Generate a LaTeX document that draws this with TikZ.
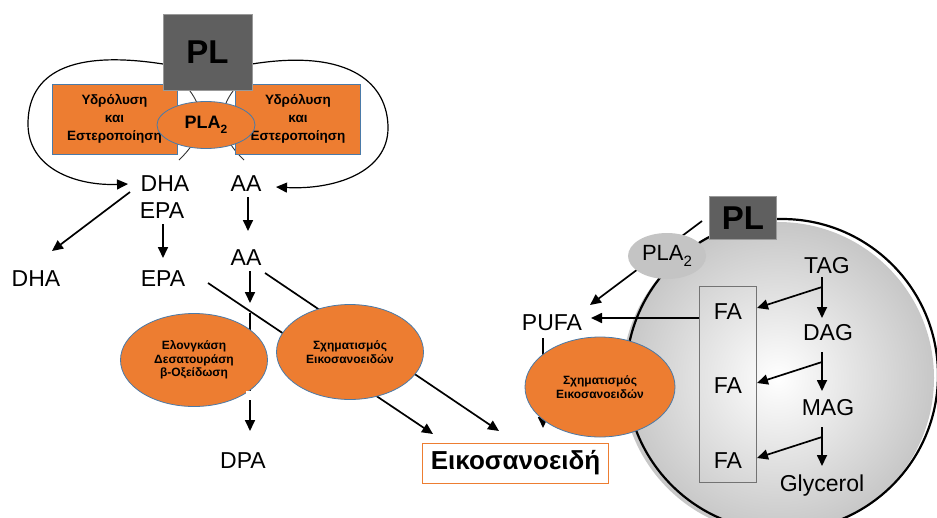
\documentclass[tikz,border=0pt]{standalone}
\usepackage{fontspec}
\setmainfont{Liberation Sans}
\usetikzlibrary{arrows.meta,shapes.geometric}
\definecolor{orng}{HTML}{ED7D31}
\definecolor{bord}{HTML}{4A7AA8}
\definecolor{plgray}{HTML}{5F5F5F}
\definecolor{plagray}{HTML}{C4C4C4}
\newcommand{\subtwo}[1]{\raisebox{-0.3em}{\fontsize{#1}{#1}\selectfont 2}}
\begin{document}
\begin{tikzpicture}[x=1pt,y=-1pt,
  lbl/.style={font=\fontsize{23}{23}\selectfont, inner sep=0pt, text height=16pt, text depth=0pt},
  arr/.style={line width=1.7pt, -{Triangle[length=11pt,width=10pt]}},
  loopline/.style={line width=1.2pt, -{Triangle[length=11pt,width=10pt]}},
  orbox/.style={rectangle, fill=orng, draw=bord, line width=0.8pt, inner sep=0pt,
     minimum width=125pt, minimum height=70pt, align=center,
     font=\bfseries\fontsize{13.5}{18}\selectfont},
  orell/.style={ellipse, fill=orng, draw=bord, line width=0.8pt, inner sep=0pt, align=center,
     font=\bfseries\fontsize{12}{13.5}\selectfont},
  plbox/.style={rectangle, fill=plgray, draw=gray!80, line width=0.8pt, inner sep=0pt,
     font=\bfseries\fontsize{33}{33}\selectfont}
]
\useasboundingbox (0,0) rectangle (937,517);

% ---------------- left part ----------------
\coordinate (loopLs) at (163,64);
\coordinate (loopRs) at (252,64);
\node[lbl] (dhaA) at (165,183) {DHA};
\node[lbl] (epaA) at (162,210) {EPA};
\node[lbl] (aaA) at (246,183) {AA};
\node[lbl] (aaB) at (246,257) {AA};
\node[lbl] (dhaB) at (36,278) {DHA};
\node[lbl] (epaB) at (163,278) {EPA};
\node[lbl] (dpa) at (243,460) {DPA};

\draw[loopline] (loopLs) .. controls (60,48) and (28,80) .. (28,124)
   .. controls (28,168) and (75,186) .. (128,184);
\draw[loopline] (loopRs) .. controls (352,48) and (388,85) .. (388,128)
   .. controls (388,172) and (335,190) .. (276,187);

% arcs behind PLA2
\draw[line width=0.9pt, black!80] (186,86) .. controls (210,114) and (202,138) .. (179,160);
\draw[line width=0.9pt, black!80] (237,86) .. controls (213,114) and (221,138) .. (244,160);

\node[orbox] (hydL) at (114.5,119) {Υδρόλυση\\και\\Εστεροποίηση};
\node[orbox] (hydR) at (298,119) {Υδρόλυση\\και\\Εστεροποίηση};
\node[plbox, minimum width=89pt, minimum height=76pt] (plL) at (207.5,52) {PL};
\node[ellipse, fill=orng, draw=bord, line width=0.8pt, inner sep=0pt,
      minimum width=98pt, minimum height=47pt,
      font=\bfseries\fontsize{18}{18}\selectfont] (pla2L) at (206,125) {PLA\subtwo{12}};

% arrows upper left
\coordinate (d1s) at (130,192); \coordinate (d1e) at (52,251);
\draw[arr] (d1s) -- (d1e);
\coordinate (e1s) at (163,224); \coordinate (e1e) at (163,258);
\draw[arr] (e1s) -- (e1e);
\coordinate (a1s) at (248,197); \coordinate (a1e) at (248,231);
\draw[arr] (a1s) -- (a1e);

% lower left connectors (behind ellipses)
\coordinate (a2s) at (250,271); \coordinate (a2e) at (250,303);
\draw[arr] (a2s) -- (a2e);
\coordinate (dps) at (250,313); \coordinate (dpe) at (250,431);
\draw[arr] (dps) -- (dpe);
\coordinate (epS) at (208,283); \coordinate (epE) at (433,434);
\draw[arr] (epS) -- (epE);
\coordinate (aaS) at (265,273); \coordinate (aaE) at (499,431);
\draw[arr] (aaS) -- (aaE);

\node[orell, minimum width=147pt, minimum height=93pt] (elong) at (194,360)
   {Ελονγκάση\\Δεσατουράση\\β-Οξείδωση};
\node[orell, minimum width=147pt, minimum height=95pt] (schL) at (350,352)
   {Σχηματισμός\\Εικοσανοειδών};
\fill[white] (246,391) rectangle (254,400);

\node[rectangle, draw=orng, line width=1pt, inner sep=0pt, minimum width=186pt, minimum height=40pt,
      font=\bfseries\fontsize{26}{26}\selectfont] (eik) at (515.5,463) {Εικοσανοειδή};

% ---------------- right part ----------------
\shade[inner color=white, outer color=black!22] (778,378) circle (156pt);
\draw[line width=2.2pt] (782,375) circle (156pt);

\coordinate (plaS) at (702,221); \coordinate (plaE) at (590,305);
\draw[arr] (plaS) -- (plaE);

\node[ellipse, fill=plagray, inner sep=0pt, minimum width=78pt, minimum height=46pt,
      font=\fontsize{22}{22}\selectfont] (pla2R) at (667,256) {PLA\subtwo{15}};
\node[plbox, minimum width=67pt, minimum height=43pt] (plR) at (743,218) {PL};

\node[lbl] (pufa) at (552,322) {PUFA};
\node[lbl] (tag) at (827,265) {TAG};
\node[lbl] (dag) at (828,332) {DAG};
\node[lbl] (mag) at (828,407) {MAG};
\node[lbl] (gly) at (822,483) {Glycerol};
\node[lbl] (fa1) at (728,311) {FA};
\node[lbl] (fa2) at (728,385) {FA};
\node[lbl] (fa3) at (728,460) {FA};
\draw[line width=1pt, black!55] (699,286) rectangle (756,482);
\coordinate (faBox) at (699,318);
\coordinate (pufaE) at (591,318);
\draw[arr] (faBox) -- (pufaE);

\coordinate (pdS) at (543,338); \coordinate (pdE) at (543,428);
\draw[arr] (pdS) -- (pdE);
\node[orell, minimum width=150pt, minimum height=100pt] (schR) at (600,387)
   {Σχηματισμός\\Εικοσανοειδών};

\coordinate (t1) at (822,277); \coordinate (t2) at (822,318);
\coordinate (tb) at (822,287); \coordinate (f1) at (757,308);
\draw[arr] (t1) -- (t2);
\draw[arr] (tb) -- (f1);
\coordinate (d1) at (822,352); \coordinate (d2) at (822,391);
\coordinate (db) at (822,362); \coordinate (f2) at (757,383);
\draw[arr] (d1) -- (d2);
\draw[arr] (db) -- (f2);
\coordinate (m1) at (822,427); \coordinate (m2) at (822,466);
\coordinate (mb) at (822,437); \coordinate (f3) at (757,458);
\draw[arr] (m1) -- (m2);
\draw[arr] (mb) -- (f3);
\end{tikzpicture}
\end{document}
